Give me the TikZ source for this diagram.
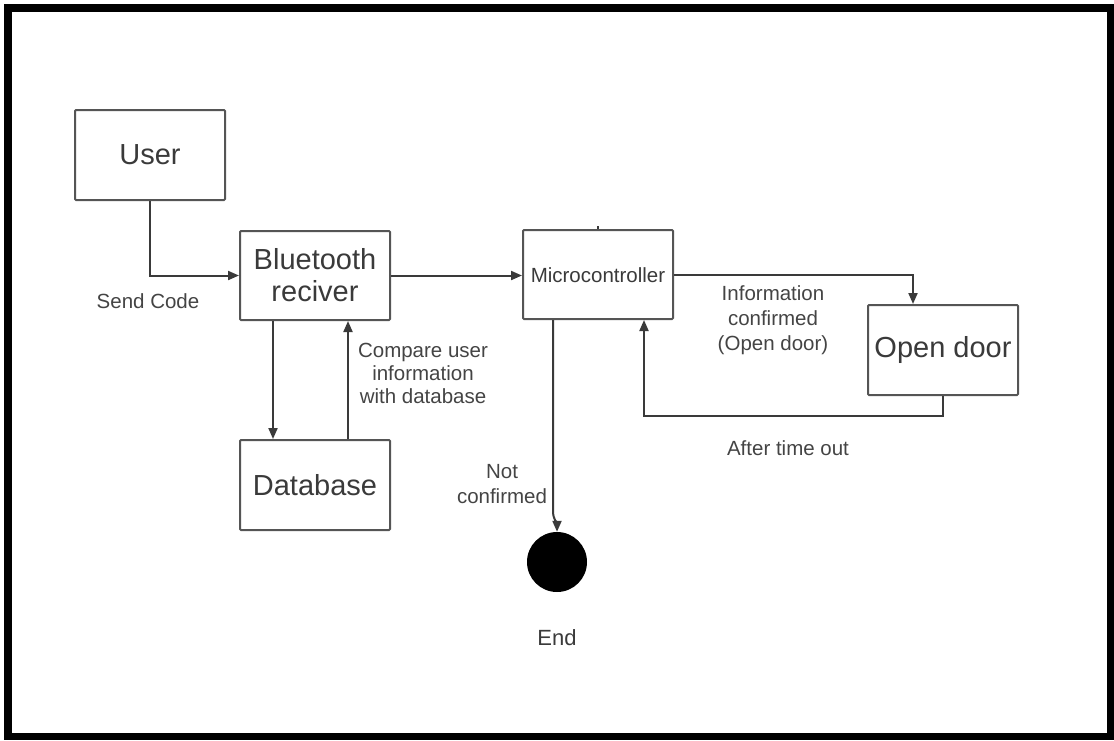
\documentclass[tikz,border=0pt]{standalone}
\usepackage{fontspec}
\setmainfont{Liberation Sans}
\usetikzlibrary{arrows.meta,calc}
\definecolor{ink}{HTML}{3A3A3A}
\definecolor{edge}{HTML}{555555}
\definecolor{lbl}{HTML}{444444}
\begin{document}
\begin{tikzpicture}[x=1pt,y=-1pt,
  blk/.style={draw=edge,line width=2pt,rounded corners=1pt,fill=white,
    minimum width=150pt,minimum height=90pt,inner sep=0pt,
    text=ink,align=center,font=\fontsize{29}{35}\selectfont},
  note/.style={text=lbl,align=center,inner sep=0pt,
    font=\fontsize{20.5}{24}\selectfont},
  flow/.style={draw=ink,line width=2pt,-{Triangle[length=11pt,width=9pt]}},
  wire/.style={draw=ink,line width=2pt}]
\useasboundingbox (0,0) rectangle (1114,740);
% outer frame
\draw[line width=7.5pt,black] (8,8) rectangle (1110.5,736.5);

% blocks
\node[blk] (usr) at (150,155) {User};
\node[blk,minimum height=89pt] (bt) at (315,275.5) {Bluetooth\\[-3pt]reciver};
\node[blk] (db) at (315,485) {Database};
\node[blk,minimum height=89pt] (mc) at (598,274.5) {};
\node[text=ink,inner sep=0pt,font=\fontsize{20.5}{24}\selectfont] (mct) at (598,275) {Microcontroller};
\node[blk] (od) at (943,350) {Open door};
\node[circle,fill=black,minimum size=60pt,inner sep=0pt] (en) at (557,562) {};

% anchor points for the connectors
\coordinate (btd) at ($(bt.south)+(-42,0)$);
\coordinate (dbd) at ($(db.north)+(-42,0)$);
\coordinate (dbu) at ($(db.north)+(33,0)$);
\coordinate (btu) at ($(bt.south)+(33,0)$);
\coordinate (odin) at ($(od.north)+(-30,0)$);
\coordinate (mcin) at ($(mc.south)+(46,0)$);
\coordinate (mcout) at ($(mc.south)+(-45,0)$);

% connectors
\draw[flow] (usr.south) |- (bt.west);
\draw[flow] (btd) -- (dbd);
\draw[flow] (dbu) -- (btu);
\draw[flow] (bt.east) -- (bt.east -| mc.west);
\draw[flow] (mc.east) -| (odin);
\draw[flow] (od.south) -- ++(0,20) -| (mcin);
\draw[flow] (mcout) -- ++(0,191) to[out=-90,in=90] (en.north);
\draw[wire,line width=1.5pt] (mc.north) -- ++(0,-3);

% labels
\node[note] (l1) at (148,301) {Send Code};
\node[note,font=\fontsize{20.5}{23}\selectfont] (l2) at (423,373) {Compare user\\information\\with database};
\node[note,font=\fontsize{20.5}{25.5}\selectfont] (l3) at (502,484) {Not\\confirmed};
\node[note,font=\fontsize{20.5}{25}\selectfont] (l4) at (773,320) {Information\\confirmed\\(Open door)};
\node[note] (l5) at (788,448) {After time out};
\node[note,text=ink,font=\fontsize{22}{26}\selectfont] (l6) at (557,638) {End};
\end{tikzpicture}
\end{document}
